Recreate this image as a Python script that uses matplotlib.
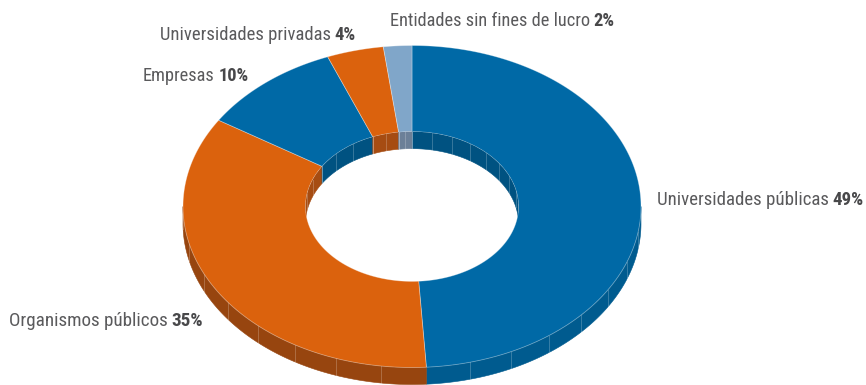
import numpy as np
import matplotlib
matplotlib.use("Agg")
import matplotlib.pyplot as plt
from matplotlib.patches import Polygon, Ellipse
from matplotlib import font_manager

# Distribution of R&D performers (share of total, %)
categories = ["Universidades públicas", "Organismos públicos", "Empresas",
              "Universidades privadas", "Entidades sin fines de lucro"]
shares = [49, 35, 10, 4, 2]

top_colors = ["#0069A6", "#DB620D", "#0069A6", "#DB620D", "#80A6C9"]
outer_wall_colors = ["#005B8F", "#97450F", "#005B8F", "#97450F", "#6A86A3"]
inner_wall_colors = ["#005281", "#A64C12", "#005281", "#A64C12", "#6C8098"]

# label boxes: left edge, right edge, baseline (pixels)
label_box = [(657, 863, 205), (9, 203, 326), (143, 248, 81), (160, 355, 40), (390, 615, 26)]

W, H = 866, 385
fig = plt.figure(figsize=(W / 100, H / 100), dpi=100)
ax = fig.add_axes([0, 0, 1, 1])
ax.set_xlim(0, W)
ax.set_ylim(H, 0)
ax.axis("off")

cx, cy = 412, 206.5
RX, RY = 229, 161
hole = 0.465
rx, ry = RX * hole, RY * hole
depth = 17
facet_step = 11.0


def arc(ax_r, ay_r, t0, t1, dy=0.0):
    n = max(2, int(abs(t1 - t0) * 3))
    th = np.radians(np.linspace(t0, t1, n))
    return np.column_stack([cx + ax_r * np.cos(th), cy - ay_r * np.sin(th) + dy])


def overlap(a, b, lo, hi):
    out = []
    for k in range(-2, 3):
        s, e = max(a, lo + 360 * k), min(b, hi + 360 * k)
        if e > s:
            out.append((s, e))
    return out


# slice angular ranges, clockwise from 12 o'clock
bounds = []
start = 90.0
for v in shares:
    end = start - 3.6 * v
    bounds.append((end, start))
    start = end

inner_clip = Ellipse((cx, cy), 2 * rx, 2 * ry, transform=ax.transData)
facet_kw = dict(color="white", alpha=0.22, lw=0.7)

for (a, b), wc in zip(bounds, outer_wall_colors):
    # outer side wall on the front half
    for s, e in overlap(a, b, 180, 360):
        top = arc(RX, RY, s, e)
        bot = arc(RX, RY, e, s, depth)
        ax.add_patch(Polygon(np.vstack([top, bot]), closed=True, fc=wc, ec=wc, lw=0.4, zorder=1))
    n = max(1, int(round((b - a) / facet_step)))
    for t in np.linspace(a, b, n + 1)[1:-1]:
        if np.sin(np.radians(t)) < 0:
            x = cx + RX * np.cos(np.radians(t))
            y = cy - RY * np.sin(np.radians(t))
            ax.plot([x, x], [y, y + depth], zorder=1.5, **facet_kw)

for (a, b), tc in zip(bounds, top_colors):
    poly = np.vstack([arc(RX, RY, a, b), arc(rx, ry, b, a)])
    ax.add_patch(Polygon(poly, closed=True, fc=tc, ec=(1, 1, 1, 0.35), lw=0.6, zorder=2))

for (a, b), wc in zip(bounds, inner_wall_colors):
    # inner wall of the hole on the back half
    for s, e in overlap(a, b, 0, 180):
        top = arc(rx, ry, s, e)
        bot = arc(rx, ry, e, s, depth)
        p = Polygon(np.vstack([top, bot]), closed=True, fc=wc, ec=wc, lw=0.4, zorder=3)
        ax.add_patch(p)
        p.set_clip_path(inner_clip)
    n = max(2, int(round((b - a) / facet_step)))
    for t in np.linspace(a, b, n + 1):
        if np.sin(np.radians(t)) > 0:
            x = cx + rx * np.cos(np.radians(t))
            y = cy - ry * np.sin(np.radians(t))
            ln, = ax.plot([x, x], [y, y + depth], zorder=3.5, **facet_kw)
            ln.set_clip_path(inner_clip)


# pick the narrowest sans face available
def pick_family():
    entries = font_manager.fontManager.ttflist
    names = {f.name for f in entries}
    for nm in ["Liberation Sans Narrow", "Roboto Condensed", "Open Sans Condensed",
               "Noto Sans Condensed", "DejaVu Sans Condensed"]:
        if nm in names:
            return nm, "normal"
    for f in entries:
        if f.name == "DejaVu Sans" and str(f.stretch) in ("condensed", "semi-condensed"):
            return "DejaVu Sans", "condensed"
    return "Liberation Sans", "normal"


fam, stretch = pick_family()
family = [fam, "DejaVu Sans"]

renderer = fig.canvas.get_renderer()


def place_label(name, value, x0, x1, base):
    base_fs = 12.0
    t = ax.text(x0, base, name, fontsize=base_fs, family=family, fontstretch=stretch,
                color="#5A5A5C", ha="left", va="baseline", zorder=5)
    b = ax.text(x0, base, f"{value}%", fontsize=base_fs, family=family, fontstretch=stretch,
                color="#48484A", fontweight="bold", ha="left", va="baseline", zorder=5)
    w_name = t.get_window_extent(renderer).width
    w_val = b.get_window_extent(renderer).width
    gap = base_fs * 0.28
    fs = base_fs * (x1 - x0) / (w_name + gap + w_val)
    t.set_fontsize(fs)
    b.set_fontsize(fs)
    w_name = t.get_window_extent(renderer).width
    b.set_x(x0 + w_name + fs * 0.28)


for name, v, (x0, x1, base) in zip(categories, shares, label_box):
    place_label(name, v, x0, x1, base)

fig.savefig("out.png", dpi=100)
